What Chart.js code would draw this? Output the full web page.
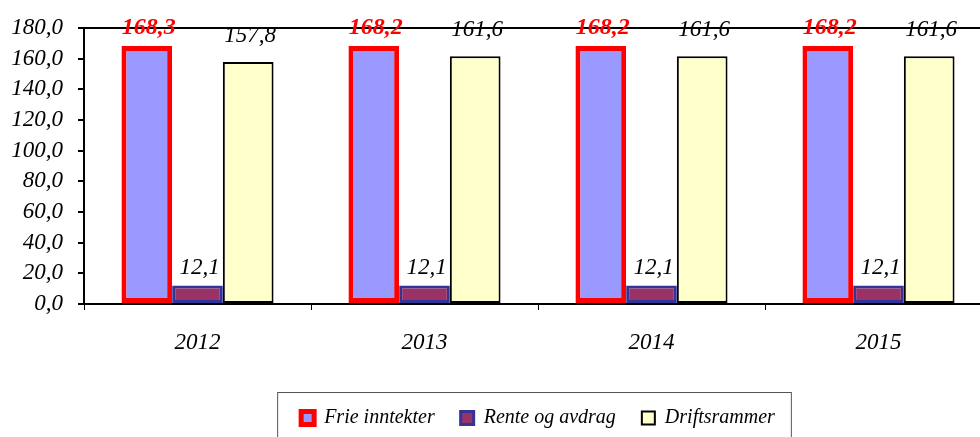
<!DOCTYPE html>
<html>
<head>
<meta charset="utf-8">
<script src="https://cdn.jsdelivr.net/npm/chart.js@4.4.0/dist/chart.umd.min.js"></script>
<style>
    html, body { margin: 0; padding: 0; background: #fff; overflow: hidden; }
    #wrap { position: absolute; left: 0; top: 0; width: 1000px; height: 438px; }
</style>
</head>
<body>
<div id="wrap"><canvas id="barChart"></canvas></div>
<script>
const years = ['2012', '2013', '2014', '2015'];
const frieInntekter = [168.3, 168.2, 168.2, 168.2];
const renteOgAvdrag = [12.1, 12.1, 12.1, 12.1];
const driftsrammer = [157.8, 161.6, 161.6, 161.6];
const yTicks = [0, 20, 40, 60, 80, 100, 120, 140, 160, 180];

const serif = "'Liberation Serif', 'Times New Roman', serif";
const fmt = v => v.toFixed(1).replace('.', ',');

// value labels above each bar, Excel style
const valueLabels = {
    id: 'valueLabels',
    afterDatasetsDraw(chart) {
        const ctx = chart.ctx;
        ctx.save();
        ctx.textAlign = 'center';
        ctx.textBaseline = 'alphabetic';
        chart.data.datasets.forEach((ds, i) => {
            const meta = chart.getDatasetMeta(i);
            ctx.fillStyle = ds.labelColor;
            ctx.font = ds.labelFont;
            meta.data.forEach((bar, j) => {
                ctx.fillText(fmt(ds.data[j]), bar.x + 2, bar.y - ds.labelOffset);
            });
        });
        ctx.restore();
    }
};

// frame round the legend
const legendFrame = {
    id: 'legendFrame',
    afterDraw(chart) {
        const boxes = chart.legend.legendHitBoxes;
        if (!boxes || !boxes.length) return;
        const last = boxes[boxes.length - 1];
        const l = boxes[0].left - 24;
        const r = last.left + last.width + 16;
        const ctx = chart.ctx;
        ctx.save();
        ctx.strokeStyle = '#555';
        ctx.lineWidth = 1;
        ctx.strokeRect(l + 0.5, 392.5, r - l, 60);
        ctx.restore();
    }
};

new Chart(document.getElementById('barChart').getContext('2d'), {
    type: 'bar',
    data: {
        labels: years,
        datasets: [
            {
                label: 'Frie inntekter',
                data: frieInntekter,
                backgroundColor: '#9999FF',
                borderColor: '#FF0000',
                borderWidth: 5,
                borderSkipped: false,
                labelColor: '#FF0000',
                labelFont: "italic bold 24px " + serif,
                labelOffset: 12
            },
            {
                label: 'Rente og avdrag',
                data: renteOgAvdrag,
                backgroundColor: '#993366',
                borderColor: '#333399',
                borderWidth: 3,
                borderSkipped: false,
                labelColor: '#000',
                labelFont: "italic 23px " + serif,
                labelOffset: 11
            },
            {
                label: 'Driftsrammer',
                data: driftsrammer,
                backgroundColor: '#FFFFCC',
                borderColor: '#000000',
                borderWidth: 2,
                borderSkipped: false,
                labelColor: '#000',
                labelFont: "italic 23px " + serif,
                labelOffset: 20
            }
        ]
    },
    options: {
        responsive: true,
        maintainAspectRatio: false,
        animation: false,
        categoryPercentage: 0.67,
        barPercentage: 1.0,
        layout: { padding: { top: 28, right: 8, left: 0, bottom: 0 } },
        scales: {
            x: {
                afterFit: s => { s.height = 78; },
                grid: { drawOnChartArea: false, tickLength: 6, tickColor: '#000', lineWidth: 1 },
                border: { color: '#000', width: 2 },
                ticks: { color: '#000', padding: 19, font: { family: serif, size: 23, style: 'italic' } }
            },
            y: {
                min: 0,
                max: 180,
                afterFit: s => { s.width = 84; },
                afterBuildTicks: s => { s.ticks = yTicks.map(v => ({ value: v })); },
                grid: {
                    color: c => c.tick && c.tick.value === 180 ? '#000' : 'rgba(0,0,0,0)',
                    lineWidth: 2,
                    tickLength: 6,
                    tickColor: '#000'
                },
                border: { color: '#000', width: 2 },
                ticks: {
                    color: '#000',
                    padding: 15,
                    autoSkip: false,
                    font: { family: serif, size: 23, style: 'italic', lineHeight: 1 },
                    callback: v => fmt(v)
                }
            }
        },
        plugins: {
            legend: {
                position: 'bottom',
                fullSize: false,
                labels: {
                    boxWidth: 13,
                    boxHeight: 13,
                    padding: 26,
                    color: '#000',
                    font: { family: serif, size: 20, style: 'italic' }
                }
            },
            tooltip: { enabled: false }
        }
    },
    plugins: [valueLabels, legendFrame]
});
</script>
</body>
</html>
